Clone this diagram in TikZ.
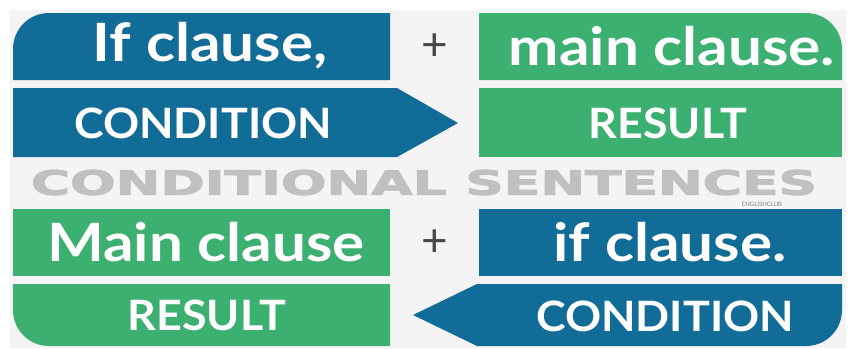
\documentclass[tikz,border=0pt]{standalone}
\usepackage{fontspec}
\setmainfont{Lato}
\newfontfamily\clausefont{Lato}[FakeStretch=1.14]
\newfontfamily\tagfont{Lato}[FakeStretch=1.07]
\newfontfamily\titlefont{DejaVu Sans}[FakeBold=2.5]
\definecolor{condblue}{RGB}{17,108,152}
\definecolor{resgreen}{RGB}{60,176,112}
\definecolor{panelgray}{RGB}{244,244,244}
\definecolor{titlegray}{RGB}{192,192,192}
\definecolor{plusgray}{RGB}{70,70,70}
\tikzset{
	clause/.style={text=white,inner sep=0pt,font=\fontsize{53}{53}\clausefont\bfseries},
	tag/.style={text=white,inner sep=0pt,font=\fontsize{42}{42}\tagfont\bfseries},
	plus sign/.style={text=plusgray,inner sep=0pt,font=\fontsize{46}{46}\selectfont}
}

\begin{document}
\begin{tikzpicture}[x=1bp,y=-1bp]
	\useasboundingbox (0,0) rectangle (854,348);
	\fill[white] (0,0) rectangle (854,348);
	\fill[panelgray] (10,10) rectangle (846,348);
	% first sentence: if clause + main clause
	\fill[condblue] (13,80) -- (13,49) .. controls (13,29) and (29,13) .. (49,13) -- (390,13) -- (390,80) -- cycle;
	\fill[condblue] (13,88) -- (397,88) -- (458,123) -- (397,157) -- (13,157) -- cycle;
	\fill[resgreen] (479,13) -- (806,13) .. controls (826,13) and (842,29) .. (842,49) -- (842,80) -- (479,80) -- cycle;
	\fill[resgreen] (479,88) rectangle (842,157);
	\node[clause] (if1) at (210,46) {If clause,};
	\node[tag] (cond1) at (203,123) {CONDITION};
	\node[plus sign] (plus1) at (435,47) {+};
	\node[clause] (main1) at (672,46) {main clause.};
	\node[tag] (res1) at (668,123) {RESULT};
	% title
	\node[text=titlegray,inner sep=0pt] (title) at (424,182.5)
		{\resizebox{786bp}{25bp}{\titlefont\bfseries CONDITIONAL SENTENCES}};
	\node[text=gray,inner sep=0pt,font=\fontsize{6}{6}\selectfont] (club) at (762,204.5) {ENGLISHCLUB};
	% second sentence: main clause + if clause
	\fill[resgreen] (13,209) rectangle (390,276);
	\fill[resgreen] (13,284) -- (390,284) -- (390,346) -- (49,346) .. controls (29,346) and (13,330) .. (13,310) -- cycle;
	\fill[condblue] (479,209) rectangle (842,276);
	\fill[condblue] (842,284) -- (842,310) .. controls (842,330) and (826,346) .. (806,346) -- (477,346) -- (413,315) -- (477,284) -- cycle;
	\node[clause] (main2) at (206,242) {Main clause};
	\node[tag] (res2) at (207,315) {RESULT};
	\node[plus sign] (plus2) at (435,243) {+};
	\node[clause] (if2) at (670,242) {if clause.};
	\node[tag] (cond2) at (665,316) {CONDITION};
\end{tikzpicture}
\end{document}
